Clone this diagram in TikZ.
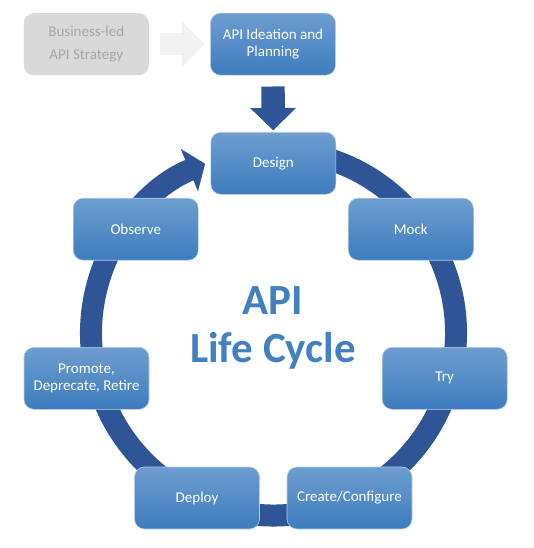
\documentclass[tikz,border=0pt]{standalone}
\usepackage{fontspec}
\setmainfont{Carlito}
\usetikzlibrary{arrows.meta}
\definecolor{ringblue}{RGB}{47,85,151}
\definecolor{boxtop}{RGB}{110,157,207}
\definecolor{boxbot}{RGB}{61,124,190}
\definecolor{titleblue}{RGB}{66,128,192}
\definecolor{grayfill}{RGB}{217,217,217}
\definecolor{graytext}{RGB}{166,166,166}
\definecolor{grayarrow}{RGB}{242,242,242}
\tikzset{
    stage/.style={
        rounded corners=10pt, top color=boxtop, bottom color=boxbot,
        draw=boxtop!50!white, line width=0.6pt, text=white,
        minimum width=125pt, minimum height=62pt, align=center, inner sep=2pt,
        font=\fontsize{15}{16.5}\selectfont
    },
    faded stage/.style={
        stage, top color=grayfill, bottom color=grayfill, draw=none, text=graytext,
        font=\fontsize{15}{22.6}\selectfont
    },
    ring/.style={draw=ringblue, line width=22pt},
}

\begin{document}
\begin{tikzpicture}[x=1pt, y=-1pt]
    \useasboundingbox (0,0) rectangle (533,548);
    \coordinate (hub) at (273.5,333);
    \draw[ring, -{Triangle[width=45pt,length=17pt]}] (hub) ++(-440:182.5) arc[start angle=-440, end angle=-112, radius=182.5];
    \node[font=\fontsize{43}{47.4}\selectfont\bfseries, text=titleblue, align=center] (title) at (273,328) {API\\Life Cycle};
    \node[faded stage] (strategy) at (86.3,44.2) {Business-led\\API Strategy};
    \node[stage] (ideation) at (273,44.2) {API Ideation and\\Planning};
    \node[stage] (design) at (273.3,163.3) {Design};
    \node[stage] (mock) at (410.8,229.2) {Mock};
    \node[stage] (observe) at (135.8,229.2) {Observe};
    \node[stage] (retire) at (86.5,378.3) {Promote,\\Deprecate, Retire};
    \node[stage] (try) at (444.7,378.3) {Try};
    \node[stage] (deploy) at (197,498) {Deploy};
    \node[stage] (configure) at (349.5,498) {Create/Configure};
    \draw[grayarrow, line width=22.3pt, -{Triangle[width=43.3pt,length=22.3pt]}] ([xshift=10.6pt]strategy.east) -- ([xshift=-5.7pt]ideation.west);
    \draw[ringblue, line width=23.4pt, -{Triangle[width=44.4pt,length=22.4pt]}] ([yshift=-11pt]ideation.south) -- ([yshift=1.6pt]design.north);
\end{tikzpicture}
\end{document}
